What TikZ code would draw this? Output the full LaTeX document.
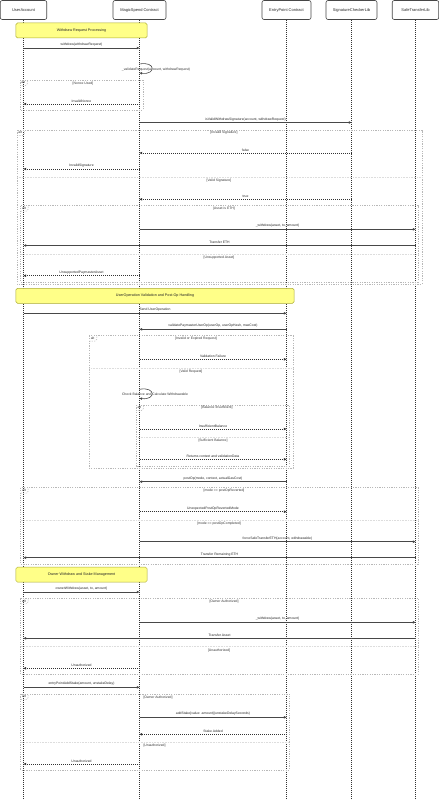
\documentclass[tikz,border=0pt]{standalone}
\usepackage{fontspec}
\setmainfont{Liberation Sans}
\usetikzlibrary{arrows.meta}
\definecolor{notefill}{HTML}{FFFF88}
\definecolor{noteline}{HTML}{AAAA33}
\definecolor{framecol}{HTML}{B8B8B8}
\definecolor{sepcol}{HTML}{DDDDDD}
\definecolor{linecol}{HTML}{333333}
\begin{document}
\begin{tikzpicture}[x=1bp,y=-1bp,
  actor/.style={draw=linecol!90, line width=0.6bp, rounded corners=2bp, fill=white,
    minimum height=19bp, inner sep=0pt, font=\fontsize{4}{4.5}\selectfont, text=black!85},
  lifeline/.style={draw=linecol, line width=0.5bp, dash pattern=on 1bp off 1bp},
  tip/.style={-{Triangle[length=2.6bp,width=2.4bp]}},
  sync/.style={draw=linecol!90, line width=0.6bp, tip},
  ret/.style={draw=linecol, line width=0.55bp, dash pattern=on 0.9bp off 1.1bp, tip},
  lbl/.style={font=\fontsize{3.4}{4}\selectfont, text=black!85, above, inner sep=0pt, yshift=1.4bp},
  fl/.style={font=\fontsize{3.4}{4}\selectfont, text=black!80, inner sep=0pt},
  frame/.style={draw=framecol, line width=0.5bp, dash pattern=on 1.2bp off 1.2bp},
  sepline/.style={draw=sepcol, line width=0.5bp, dash pattern=on 1bp off 0.6bp},
  altlbl/.style={font=\fontsize{3.4}{4}\selectfont, text=black!80, anchor=north west, inner sep=0pt},
  note/.style={draw=noteline, fill=notefill, line width=0.5bp, rounded corners=1.5bp,
    inner sep=0pt, minimum height=15bp, font=\fontsize{3.7}{4.2}\selectfont, text=black!85}
]
\useasboundingbox (0,0) rectangle (439,800);
\fill[white] (0,0) rectangle (439,800);

% actors
\node[actor, minimum width=46.5bp] (ua) at (23.5,10) {UserAccount};
\node[actor, minimum width=53bp] (ms) at (139.5,10) {MagicSpend Contract};
\node[actor, minimum width=49bp] (ep) at (286.5,10) {EntryPoint Contract};
\node[actor, minimum width=51bp] (sc) at (351.5,10) {SignatureCheckerLib};
\node[actor, minimum width=46.5bp] (st) at (415.5,10) {SafeTransferLib};

% lifelines
\coordinate (uaE) at (23.5,800);
\coordinate (msE) at (139.5,800);
\coordinate (epE) at (286.5,800);
\coordinate (scE) at (351.5,800);
\coordinate (stE) at (415.5,800);
\draw[lifeline] (ua.south) -- (uaE);
\draw[lifeline] (ms.south) -- (msE);
\draw[lifeline] (ep.south) -- (epE);
\draw[lifeline] (sc.south) -- (scE);
\draw[lifeline] (st.south) -- (stE);

% frame macro-like drawing
\newcommand\altframe[4]{% x1 y1 x2 y2
  \draw[frame] (#1,#2) rectangle (#3,#4);
  \draw[frame] (#1,#2+5.5) -- (#1+5.5,#2+5.5) -- (#1+7.5,#2+3.5) -- (#1+7.5,#2);
  \node[altlbl] at (#1+1.3,#2+1.2) {alt};
}

% ---------- Section 1
\node[note, minimum width=131bp] (n1) at (81.5,30.5) {Withdraw Request Processing};
\draw[sync] (ua |- 0,48) -- node[lbl]{withdraw(withdrawRequest)} (ms |- 0,48);
\coordinate (l1a) at (139.5,64);
\coordinate (l1b) at (139.5,73);
\draw[sync] (l1a) .. controls (156,61) and (156,75) .. (l1b);
\node[fl] at (156,69.5) {\_validateRequest(account, withdrawRequest)};

\altframe{20}{80}{143}{110}
\node[fl] at (83,83.3) {[Nonce Used]};
\draw[ret] (ms |- 0,104) -- node[lbl]{InvalidNonce} (ua |- 0,104);

\draw[sync] (ms |- 0,122.5) -- node[lbl]{isValidWithdrawSignature(account, withdrawRequest)} (sc |- 0,122.5);

\altframe{17}{130}{422}{284}
\node[fl] at (224,132.3) {[Invalid Signature]};
\draw[ret] (sc |- 0,153) -- node[lbl]{false} (ms |- 0,153);
\draw[ret] (ms |- 0,169) -- node[lbl]{InvalidSignature} (ua |- 0,169);
\draw[sepline] (17,177.3) -- (422,177.3);
\node[fl] at (219,181) {[Valid Signature]};
\draw[ret] (sc |- 0,199.3) -- node[lbl]{true} (ms |- 0,199.3);

\altframe{20.7}{205.7}{418}{282}
\node[fl] at (224,209) {[Asset is ETH]};
\draw[sync] (ms |- 0,229.3) -- node[lbl]{\_withdraw(asset, to, amount)} (st |- 0,229.3);
\draw[sync] (st |- 0,245.5) -- node[lbl]{Transfer ETH} (ua |- 0,245.5);
\draw[sepline] (20.7,254) -- (418,254);
\node[fl] at (219,257.3) {[Unsupported Asset]};
\draw[ret] (ms |- 0,275.7) -- node[lbl]{UnsupportedPaymasterAsset} (ua |- 0,275.7);

% ---------- Section 2
\node[note, minimum width=278bp] (n2) at (155,295.8) {UserOperation Validation and Post-Op Handling};
\draw[sync] (ua |- 0,313.3) -- node[lbl]{Send UserOperation} (ep |- 0,313.3);
\draw[sync] (ep |- 0,329.3) -- node[lbl]{validatePaymasterUserOp(userOp, userOpHash, maxCost)} (ms |- 0,329.3);

\altframe{89.3}{335.7}{293}{468.3}
\node[fl] at (196,338.7) {[Invalid or Expired Request]};
\draw[ret] (ms |- 0,359.3) -- node[lbl]{Validation Failure} (ep |- 0,359.3);
\draw[sepline] (89.3,368.3) -- (293,368.3);
\node[fl] at (191,371.3) {[Valid Request]};
\coordinate (l2a) at (139.5,389.3);
\coordinate (l2b) at (139.5,398.3);
\draw[sync] (l2a) .. controls (156,386.3) and (156,400.3) .. (l2b);
\node[fl] at (155,394.3) {Check Balance and Calculate Withdrawable};

\altframe{136}{405}{289.3}{466}
\node[fl] at (217,407.9) {[Balance Insufficient]};
\draw[ret] (ms |- 0,429) -- node[lbl]{InsufficientBalance} (ep |- 0,429);
\draw[sepline] (136,437.3) -- (289.3,437.3);
\node[fl] at (213,441) {[Sufficient Balance]};
\draw[ret] (ms |- 0,459.3) -- node[lbl]{Returns context and validationData} (ep |- 0,459.3);

\draw[sync] (ep |- 0,481.7) -- node[lbl]{postOp(mode, context, actualGasCost)} (ms |- 0,481.7);

\altframe{20.7}{487.7}{418}{564.3}
\node[fl] at (224,490.9) {[mode == postOpReverted]};
\draw[ret] (ms |- 0,511.7) -- node[lbl]{UnexpectedPostOpRevertedMode} (ep |- 0,511.7);
\draw[sepline] (20.7,520) -- (418,520);
\node[fl] at (219,523.5) {[mode == postOpCompleted]};
\draw[sync] (ms |- 0,541.7) -- node[lbl]{forceSafeTransferETH(account, withdrawable)} (st |- 0,541.7);
\draw[sync] (st |- 0,557.7) -- node[lbl]{Transfer Remaining ETH} (ua |- 0,557.7);

% ---------- Section 3
\node[note, minimum width=131bp] (n3) at (81.5,574.6) {Owner Withdraw and Stake Management};
\draw[sync] (ua |- 0,592) -- node[lbl]{ownerWithdraw(asset, to, amount)} (ms |- 0,592);

\altframe{20.7}{598.3}{418}{674.3}
\node[fl] at (224,601.2) {[Owner Authorized]};
\draw[sync] (ms |- 0,622.3) -- node[lbl]{\_withdraw(asset, to, amount)} (st |- 0,622.3);
\draw[sync] (st |- 0,638.3) -- node[lbl]{Transfer Asset} (ua |- 0,638.3);
\draw[sepline] (20.7,646.3) -- (418,646.3);
\node[fl] at (219,650.7) {[Unauthorized]};
\draw[ret] (ms |- 0,668.3) -- node[lbl]{Unauthorized} (ua |- 0,668.3);

\draw[sync] (ua |- 0,687.3) -- node[lbl]{entryPointAddStake(amount, unstakeDelay)} (ms |- 0,687.3);

\altframe{20.7}{694}{289.3}{770}
\node[fl, anchor=west] at (143.3,697.4) {[Owner Authorized]};
\draw[sync] (ms |- 0,717.3) -- node[lbl]{addStake\{value: amount\}(unstakeDelaySeconds)} (ep |- 0,717.3);
\draw[ret] (ep |- 0,734.3) -- node[lbl]{Stake Added} (ms |- 0,734.3);
\draw[sepline] (20.7,742.3) -- (289.3,742.3);
\node[fl, anchor=west] at (143.3,745.8) {[Unauthorized]};
\draw[ret] (ms |- 0,764) -- node[lbl]{Unauthorized} (ua |- 0,764);
\end{tikzpicture}
\end{document}
